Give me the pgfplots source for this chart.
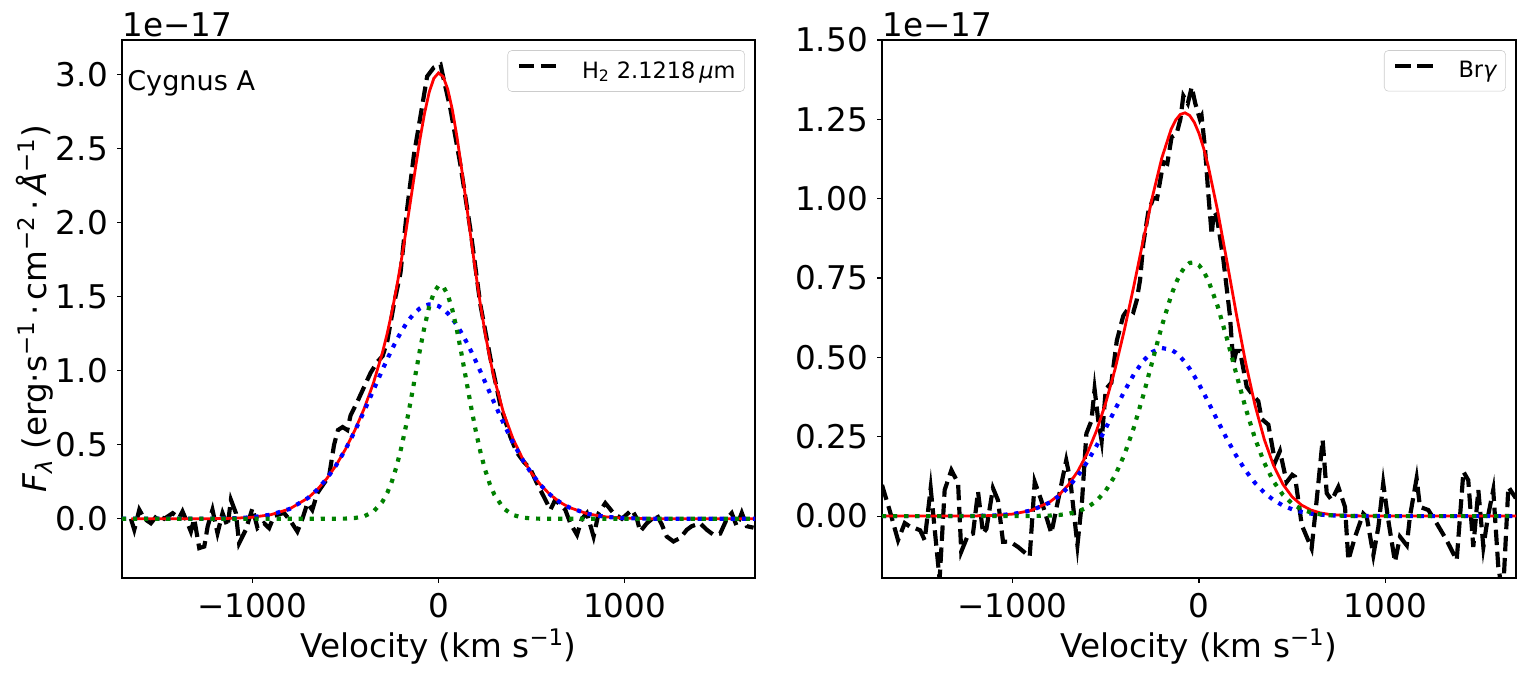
\documentclass[border=0pt]{standalone}
\usepackage{fontspec}
\setmainfont{DejaVu Sans}
\usepackage{pgfplots}
\usepackage{pgfplotstable}
\pgfplotsset{compat=1.18}
\definecolor{mplgreen}{RGB}{0,128,0}
\newcommand{\tk}{\fontsize{23.5}{28}\selectfont}
\newcommand{\legfont}{\fontsize{16.2}{19}\selectfont}

% left panel: observed H2 profile
\pgfplotstableread{
v f
-1652 0.000
-1634 -0.074
-1607 0.061
-1580 0.000
-1545 -0.030
-1509 0.027
-1473 0.000
-1428 0.038
-1393 0.005
-1375 0.050
-1348 -0.030
-1330 -0.086
-1312 0.000
-1285 -0.198
-1258 -0.187
-1240 -0.052
-1214 0.061
-1187 -0.097
-1160 0.038
-1133 -0.052
-1115 0.128
-1088 0.038
-1071 -0.165
-1035 -0.074
-999 0.072
-972 -0.063
-937 -0.030
-910 -0.063
-883 0.020
-830 0.040
-794 -0.016
-758 -0.086
-731 0.000
-704 0.106
-678 0.060
-651 0.173
-615 0.240
-588 0.286
-561 0.500
-540 0.600
-515 0.620
-490 0.600
-472 0.700
-440 0.780
-400 0.890
-365 0.986
-329 1.060
-300 1.100
-275 1.200
-240 1.446
-204 1.663
-168 2.100
-132 2.460
-97 2.720
-61 2.990
-25 3.050
11 3.070
28 2.970
64 2.770
118 2.390
172 1.950
225 1.446
279 1.084
332 0.770
386 0.554
420 0.450
458 0.385
493 0.338
529 0.240
565 0.151
601 0.061
627 0.128
681 0.061
708 -0.030
744 -0.108
770 0.000
797 0.038
833 -0.120
860 0.038
896 0.106
940 0.038
985 0.000
1039 0.061
1066 0.000
1083 -0.086
1119 -0.030
1173 0.027
1200 -0.040
1226 -0.120
1262 -0.153
1298 -0.130
1334 -0.074
1360 -0.050
1405 -0.030
1441 -0.074
1477 -0.108
1513 -0.100
1549 0.000
1575 0.038
1602 -0.050
1629 0.040
1656 -0.050
1692 -0.060
}\obsL

% left panel: fit components (broad, narrow, total)
\pgfplotstableread{
v b g r
-1700 0 0 0
-1650 0 0 0
-1600 0 0 0
-1500 0 0 0
-1400 0.0001 0 0.0001
-1300 0.0003 0 0.0003
-1200 0.0011 0 0.0011
-1100 0.0036 0 0.0036
-1000 0.0106 0 0.0106
-900 0.0279 0 0.0279
-800 0.0664 0 0.0664
-700 0.1417 0 0.1417
-650 0.1988 0 0.1988
-600 0.2717 0.0001 0.2718
-550 0.3616 0.0003 0.3619
-500 0.4684 0.0014 0.4698
-450 0.5909 0.0052 0.5961
-400 0.7259 0.0168 0.7427
-350 0.8680 0.0476 0.9156
-300 1.0106 0.1177 1.1283
-275 1.0797 0.1759 1.2556
-250 1.1458 0.2542 1.4000
-225 1.2079 0.3552 1.5631
-200 1.2647 0.4798 1.7445
-175 1.3156 0.6265 1.9421
-150 1.3592 0.7910 2.1502
-125 1.3951 0.9654 2.3605
-100 1.4224 1.1393 2.5617
-75 1.4405 1.2997 2.7402
-50 1.4492 1.4335 2.8827
-25 1.4483 1.5285 2.9768
0 1.4377 1.5757 3.0134
25 1.4177 1.5704 2.9881
50 1.3886 1.5131 2.9017
75 1.3511 1.4095 2.7606
100 1.3059 1.2693 2.5752
125 1.2538 1.1052 2.3590
150 1.1958 0.9302 2.1260
175 1.1328 0.7570 1.8898
200 1.0661 0.5956 1.6617
225 0.9966 0.4530 1.4496
250 0.9254 0.3331 1.2585
275 0.8536 0.2368 1.0904
300 0.7822 0.1628 0.9450
350 0.6437 0.0695 0.7132
400 0.5157 0.0259 0.5416
450 0.4023 0.0084 0.4107
500 0.3056 0.0024 0.3080
550 0.2260 0.0006 0.2266
600 0.1627 0.0001 0.1628
650 0.1141 0 0.1141
700 0.0779 0 0.0779
800 0.0335 0 0.0335
900 0.0129 0 0.0129
1000 0.0045 0 0.0045
1100 0.0014 0 0.0014
1200 0.0004 0 0.0004
1300 0.0001 0 0.0001
1400 0 0 0
1500 0 0 0
1600 0 0 0
1700 0 0 0
}\fitL

% right panel: observed Br-gamma profile
\pgfplotstableread{
v f
-1700 0.098
-1660 0.020
-1614 -0.076
-1578 -0.022
-1545 -0.035
-1523 -0.038
-1495 -0.045
-1471 -0.076
-1439 0.088
-1391 -0.200
-1364 0.082
-1328 0.145
-1292 0.104
-1275 -0.112
-1239 -0.060
-1212 -0.055
-1185 0.077
-1158 -0.055
-1140 -0.040
-1105 0.088
-1078 0.050
-1051 -0.081
-1015 -0.080
-971 -0.097
-908 -0.128
-881 0.108
-846 0.050
-792 -0.054
-780 -0.020
-712 0.176
-690 0.113
-652 -0.092
-627 0.050
-604 0.260
-577 0.300
-560 0.400
-540 0.300
-522 0.237
-500 0.400
-470 0.420
-441 0.552
-420 0.600
-406 0.631
-379 0.654
-352 0.643
-334 0.680
-316 0.744
-299 0.857
-272 0.958
-245 1.002
-225 1.000
-191 1.115
-170 1.110
-147 1.194
-120 1.205
-100 1.250
-84 1.324
-60 1.300
-39 1.352
-20 1.300
5 1.250
14 1.260
32 1.160
50 1.015
68 0.886
80 0.960
95 0.946
130 0.811
166 0.631
184 0.479
200 0.520
220 0.520
256 0.407
290 0.380
318 0.362
336 0.306
372 0.288
408 0.170
434 0.205
470 0.107
500 0.130
515 0.124
551 -0.028
604 -0.102
631 0.050
663 0.240
685 0.072
712 0.050
747 0.092
783 0.029
801 -0.139
837 -0.065
881 0.008
900 -0.003
935 -0.123
962 -0.034
988 0.103
1015 -0.013
1051 -0.144
1078 -0.065
1114 -0.092
1131 -0.002
1167 0.119
1185 0.029
1230 0.019
1275 -0.023
1328 -0.076
1382 -0.139
1418 0.140
1444 0.113
1471 -0.097
1498 0.082
1525 -0.097
1550 0.000
1578 0.082
1605 -0.160
1630 -0.250
1659 0.092
1695 0.060
1700 0.060
}\obsR

% right panel: fit components (broad, narrow, total)
\pgfplotstableread{
v b g r
-1700 0 0 0
-1600 0 0 0
-1500 0 0 0
-1400 0 0 0
-1300 0.0001 0 0.0001
-1200 0.0005 0 0.0005
-1100 0.0020 0 0.0020
-1000 0.0063 0 0.0063
-900 0.0176 0.0003 0.0179
-800 0.0429 0.0016 0.0445
-750 0.0637 0.0035 0.0672
-700 0.0914 0.0073 0.0987
-650 0.1269 0.0144 0.1413
-600 0.1702 0.0269 0.1971
-550 0.2208 0.0476 0.2684
-500 0.2769 0.0802 0.3571
-450 0.3356 0.1279 0.4635
-400 0.3934 0.1936 0.5870
-350 0.4458 0.2778 0.7236
-300 0.4884 0.3781 0.8665
-250 0.5173 0.4880 1.0053
-200 0.5296 0.5975 1.1271
-150 0.5243 0.6937 1.2180
-125 0.5151 0.7328 1.2479
-100 0.5018 0.7639 1.2657
-75 0.4847 0.7859 1.2706
-50 0.4643 0.7978 1.2621
-25 0.4409 0.7993 1.2402
0 0.4153 0.7903 1.2056
25 0.3878 0.7710 1.1588
50 0.3591 0.7424 1.1015
100 0.3003 0.6614 0.9617
150 0.2427 0.5589 0.8016
200 0.1897 0.4479 0.6376
250 0.1433 0.3404 0.4837
300 0.1047 0.2454 0.3501
350 0.0739 0.1678 0.2417
400 0.0504 0.1088 0.1592
450 0.0333 0.0669 0.1002
500 0.0212 0.0390 0.0602
550 0.0131 0.0216 0.0347
600 0.0078 0.0113 0.0191
650 0.0045 0.0056 0.0101
700 0.0025 0.0027 0.0052
800 0.0007 0.0005 0.0012
900 0.0002 0.0001 0.0003
1000 0 0 0
1100 0 0 0
1200 0 0 0
1300 0 0 0
1400 0 0 0
1500 0 0 0
1600 0 0 0
1700 0 0 0
}\fitR

\pgfplotsset{
  panel/.style={
    scale only axis, anchor=south west, clip mode=individual,
    height=387.36pt,
    xmin=-1700, xmax=1700,
    axis line style={line width=0.8pt},
    every tick/.style={line width=0.8pt, black},
    major tick length=3.5pt, tick align=outside, tick pos=left,
    xtick={-1000,0,1000}, xticklabels={−1000,0,1000},
    xticklabel style={font=\tk, inner sep=0pt, anchor=north, yshift=-7.3pt},
    yticklabel style={font=\tk, inner sep=0pt, anchor=east, xshift=-6.5pt},
    xlabel={Velocity (km s\textsuperscript{−1})},
    xlabel style={font=\tk, at={(axis description cs:0.5,-0.1487)}, anchor=base},
    legend style={at={(0.984,0.981)}, anchor=north east, draw=black!20,
      rounded corners=3pt, font=\legfont, inner xsep=6.5pt, inner ysep=8pt,
      column sep=17pt, fill=white, nodes={inner sep=0pt}},
    legend image code/.code={\draw[#1] (0pt,0.35em) -- (27pt,0.35em);},
  },
  obs/.style={black, line width=3pt, dash pattern=on 11.1pt off 4.8pt},
  tot/.style={red, line width=2pt},
  brd/.style={blue, line width=3pt, dash pattern=on 3pt off 4.95pt},
  nar/.style={mplgreen, line width=3pt, dash pattern=on 3pt off 4.95pt},
}

\begin{document}
\begin{tikzpicture}
\useasboundingbox (0,0) rectangle (1098.72pt,488.88pt);
\begin{axis}[panel, at={(87.84pt,72.72pt)}, width=455.76pt,
  ymin=-0.4, ymax=3.236,
  ytick={0,0.5,1,1.5,2,2.5,3},
  yticklabels={0.0,0.5,1.0,1.5,2.0,2.5,3.0},
  ylabel={{\itshape F}\textsubscript{\itshape λ} (erg·s\textsuperscript{−1}\,·\,cm\textsuperscript{−2}\,·\,{\itshape Å}\textsuperscript{−1})},
  ylabel style={font=\tk, at={(axis description cs:-0.1374,0.5)}, anchor=center},
]
\addplot[obs] table[x=v, y=f] {\obsL};
\addlegendentry{H\textsubscript{2} 2.1218\,{\itshape μ}m}
\addplot[tot, forget plot, restrict x to domain=-1655:1700] table[x=v, y=r] {\fitL};
\addplot[brd, forget plot] table[x=v, y=b] {\fitL};
\addplot[nar, forget plot] table[x=v, y=g] {\fitL};
\node[anchor=base west, inner sep=0pt, font=\tk] at (rel axis cs:0,1) [yshift=2.5pt] {1e−17};
\node[anchor=base west, inner sep=0pt, font=\fontsize{19.5}{23}\selectfont] at (rel axis cs:0.008,0.906) {Cygnus A};
\end{axis}

\begin{axis}[panel, at={(635.04pt,72.72pt)}, width=456.48pt,
  ymin=-0.195, ymax=1.5,
  ytick={0,0.25,0.5,0.75,1,1.25,1.5},
  yticklabels={0.00,0.25,0.50,0.75,1.00,1.25,1.50},
]
\addplot[obs] table[x=v, y=f] {\obsR};
\addlegendentry{Br{\itshape γ}}
\addplot[tot, forget plot] table[x=v, y=r] {\fitR};
\addplot[brd, forget plot] table[x=v, y=b] {\fitR};
\addplot[nar, forget plot] table[x=v, y=g] {\fitR};
\node[anchor=base west, inner sep=0pt, font=\tk] at (rel axis cs:0,1) [yshift=2.5pt] {1e−17};
\end{axis}
\end{tikzpicture}
\end{document}
